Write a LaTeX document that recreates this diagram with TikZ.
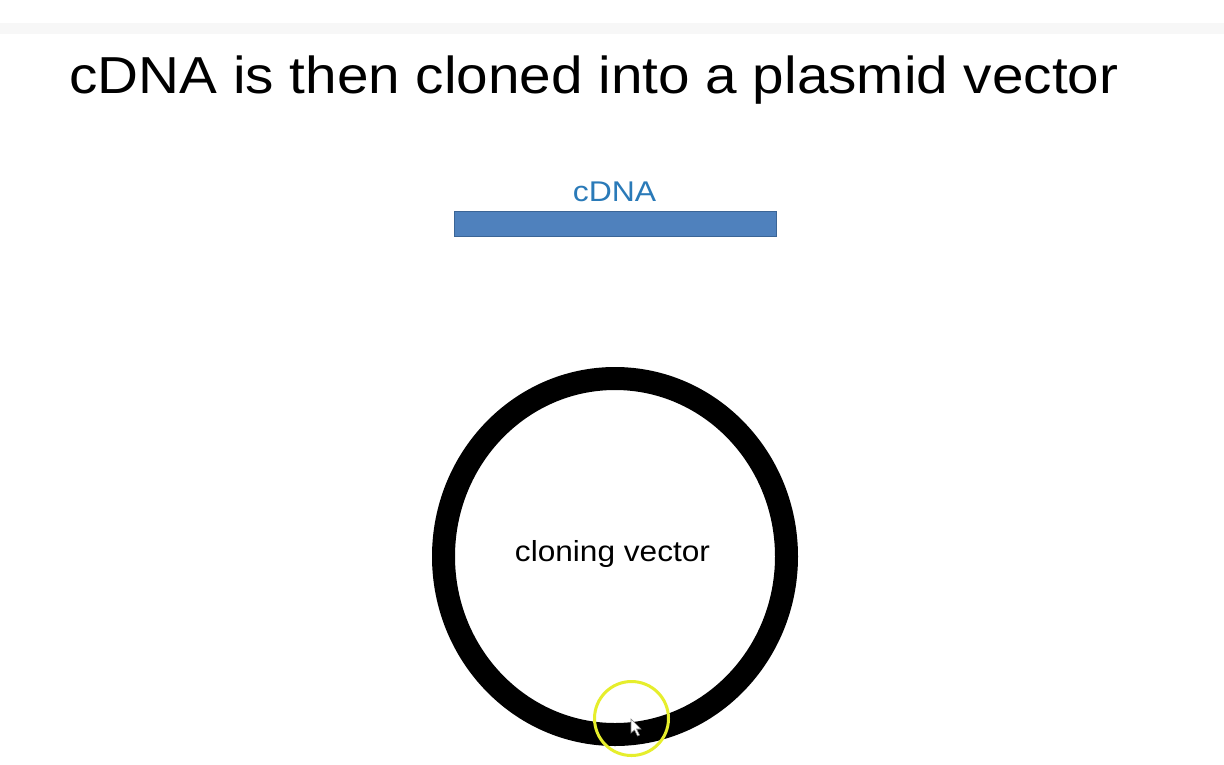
\documentclass[tikz,border=0pt]{standalone}
\usepackage{fontspec}
\setmainfont{Liberation Sans}
\definecolor{dnablue}{HTML}{4F81BD}
\definecolor{dnaedge}{HTML}{3B6596}
\definecolor{dnatext}{HTML}{2A7AB8}
\definecolor{hiyellow}{HTML}{E6EE2C}
\definecolor{topgray}{HTML}{F7F7F7}
\tikzset{
  px/.style={x=1pt,y=-1pt},
  title/.style={font=\fontsize{52}{56}\selectfont, text=black, inner sep=0pt, xscale=1.09},
  label/.style={font=\fontsize{28.5}{32}\selectfont, text=dnatext, inner sep=0pt, xscale=1.12},
  inner/.style={font=\fontsize{29}{33}\selectfont, text=black, inner sep=0pt, xscale=1.09},
  ring/.style={draw=black, line width=23pt},
  highlight/.style={draw=hiyellow, line width=3pt},
}
\begin{document}
\begin{tikzpicture}[px]
\useasboundingbox (0,0) rectangle (1224,764);
\fill[white] (0,0) rectangle (1224,764);
\fill[topgray] (0,23) rectangle (1224,34);
\node[title, anchor=base] (title) at (594,93.5) {cDNA is then cloned into a plasmid vector};
\node[draw=dnaedge, fill=dnablue, line width=1pt, minimum width=322pt, minimum height=25pt, inner sep=0pt] (cdna) at (615,223.5) {};
\node[label, anchor=base] (cdnalabel) at (614.5,201) {cDNA};
\draw[ring] (615,556.5) ellipse [x radius=171.5pt, y radius=178pt];
\coordinate (plasmid) at (615,556.5);
\node[inner, anchor=base] (vec) at (612.5,561) {cloning vector};
\draw[highlight] (631.5,718.5) circle [radius=37pt];
\coordinate (cur) at (631,719);
\draw[fill=white, draw=gray, line width=0.6pt] (cur) -- ++(0,14) -- ++(3.5,-3) -- ++(3,6) -- ++(2,-1) -- ++(-3,-6) -- ++(4.5,0) -- cycle;
\end{tikzpicture}
\end{document}
